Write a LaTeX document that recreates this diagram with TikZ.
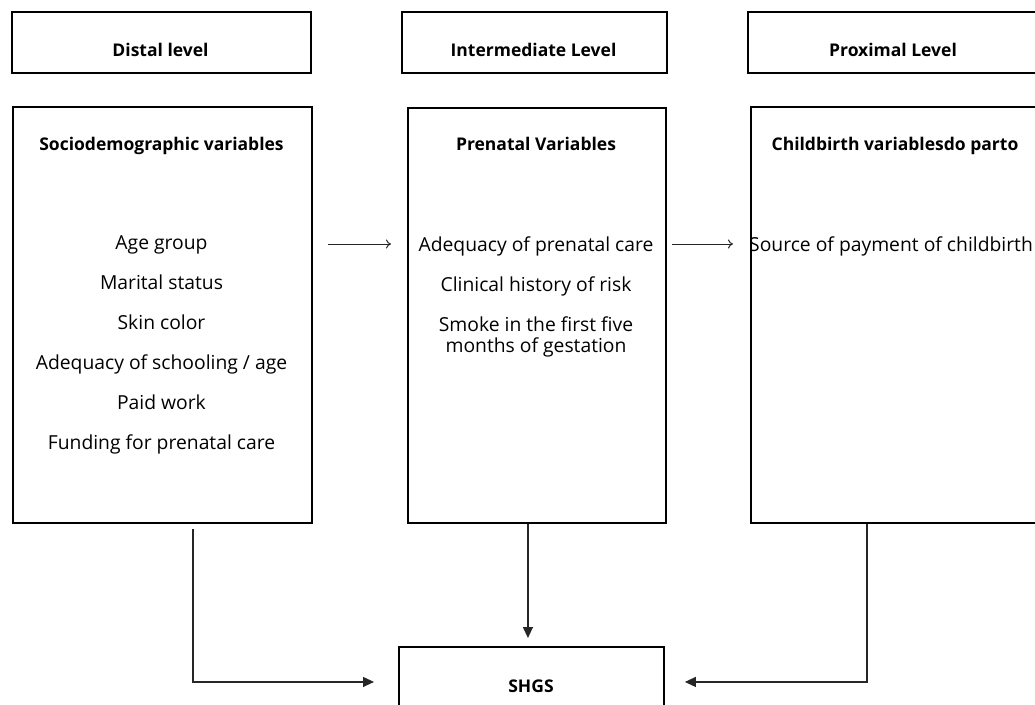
\documentclass[tikz,border=0pt]{standalone}
\usepackage{fontspec}
\setmainfont{Open Sans}
\usetikzlibrary{arrows.meta,calc}
\begin{document}
\begin{tikzpicture}[x=1pt,y=-1pt,
  box/.style={draw, line width=1.9pt, inner sep=0pt, anchor=north west},
  lbl/.style={font=\fontsize{19.3}{22}\selectfont, anchor=base, inner sep=0pt},
  ttl/.style={font=\fontsize{17.5}{21}\selectfont\bfseries, anchor=base, inner sep=0pt},
  conn/.style={line width=1.2pt, draw=black!85, -{Triangle[length=11pt,width=10pt]}},
  harrow/.style={line width=1pt, draw=black!85, -{To[length=5pt,width=9pt]}}
]
\useasboundingbox (0,0) rectangle (1035,704);
\clip (0,0) rectangle (1035,704);
% header boxes
\node[box, minimum width=299pt, minimum height=61pt] (hd) at (11,11) {};
\node[box, minimum width=265pt, minimum height=61pt] (hi) at (401,11) {};
\node[box, minimum width=292pt, minimum height=61pt] (hp) at (747,11) {};
\node[ttl] (thd) at (160.5,56) {Distal level};
\node[ttl] (thi) at (533.5,56) {Intermediate Level};
\node[ttl] (thp) at (893,56) {Proximal Level};
% main boxes
\node[box, minimum width=299pt, minimum height=416pt] (socio) at (12,106) {};
\node[box, minimum width=258pt, minimum height=415pt] (pre) at (407,107) {};
\node[box, minimum width=287pt, minimum height=416pt] (child) at (750,106) {};
% left texts
\node[ttl] (ts) at (161.5,150) {Sociodemographic variables};
\node[lbl] (s1) at (161.5,249) {Age group};
\node[lbl] (s2) at (161.5,289) {Marital status};
\node[lbl] (s3) at (161.5,329) {Skin color};
\node[lbl] (s4) at (161.5,369) {Adequacy of schooling / age};
\node[lbl] (s5) at (161.5,409) {Paid work};
\node[lbl] (s6) at (161.5,449) {Funding for prenatal care};
% middle texts
\node[ttl] (tp) at (536,150) {Prenatal Variables};
\node[lbl] (p1) at (536,251) {Adequacy of prenatal care};
\node[lbl] (p2) at (536,291) {Clinical history of risk};
\node[lbl] (p3) at (536,331) {Smoke in the first five};
\node[lbl] (p4) at (536,352) {months of gestation};
% right texts
\node[ttl] (tc) at (895,150) {Childbirth variablesdo parto};
\node[lbl] (c1) at (891,251) {Source of payment of childbirth};
% SHGS
\node[box, minimum width=265pt, minimum height=70pt] (shgs) at (398,646) {};
\node[ttl] (tsh) at (531,692) {SHGS};
% horizontal arrows
\coordinate (h1s) at (328,244);
\coordinate (h1e) at (391,244);
\coordinate (h2s) at (672,244);
\coordinate (h2e) at (733,244);
\draw[harrow] (h1s) -- (h1e);
\draw[harrow] (h2s) -- (h2e);
% connectors to SHGS
\draw[conn, shorten >=24pt] ([xshift=30.5pt,yshift=-5pt]socio.south) |- (shgs.west);
\draw[conn, shorten >=8pt] ([xshift=-9pt]pre.south) -- ([xshift=-9pt]pre.south |- shgs.north);
\draw[conn, shorten >=20pt] ([xshift=-27.5pt]child.south) |- (shgs.east);
\end{tikzpicture}
\end{document}
